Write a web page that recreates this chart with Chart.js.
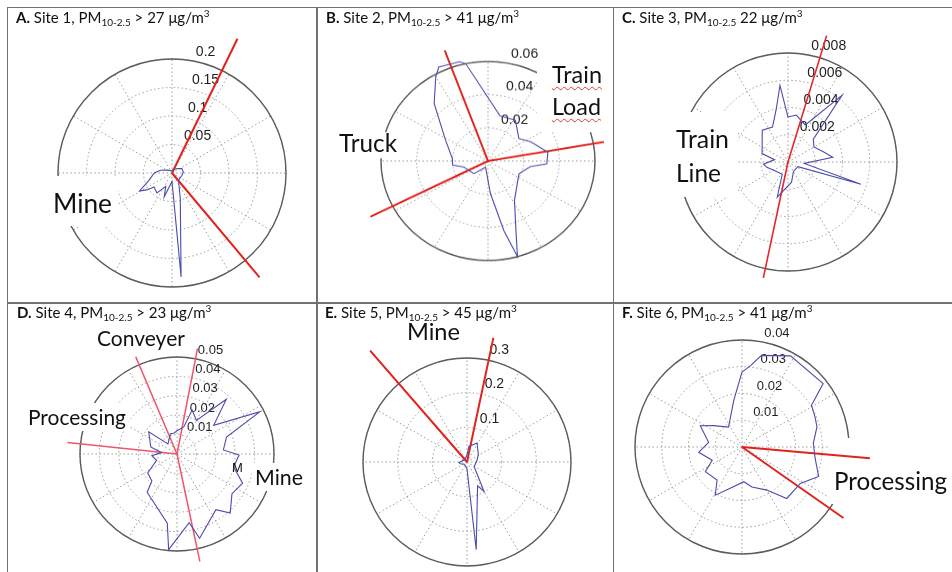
<!DOCTYPE html>
<html>
<head>
<meta charset="utf-8">
<script src="https://cdn.jsdelivr.net/npm/chart.js@4.4.0/dist/chart.umd.min.js"></script>
<style>
  body { margin: 0; background: #fff; }
  #page { position: relative; width: 952px; height: 572px; overflow: hidden; font-family: Lato, "Open Sans", sans-serif; }
  .rule { position: absolute; background: #727272; }
  .cell { position: absolute; }
  .cell canvas { position: absolute; left: 0; top: 0; }
  .title { position: absolute; font-size: 15px; color: #111; white-space: nowrap; line-height: 1; z-index: 3; }
  .title sub { font-size: 10px; vertical-align: -3px; line-height: 0; }
  .title sup { font-size: 10px; vertical-align: 6px; line-height: 0; }
  .lab { position: absolute; color: #111; white-space: nowrap; line-height: 1; z-index: 3; }
  .lab .bl { display: inline-block; width: 0; height: 0; vertical-align: baseline; }
  .wavy { text-decoration: underline wavy #e03a3a; text-decoration-thickness: 1px; text-underline-offset: 3px; }
</style>
</head>
<body>
<div id="page"></div>
<script>
// directions are degrees clockwise from north, values are the rose radius

// A. Site 1
const dirA = [0, 20, 49, 66, 85, 103, 138, 162, 175, 180, 198, 205, 217, 232, 236, 241, 252, 270, 283, 300, 330]
const valA = [0.004, 0.006, 0.012, 0.019, 0.020, 0.018, 0.017, 0.047, 0.183, 0.015, 0.044, 0.026, 0.044, 0.040, 0.053, 0.065, 0.043, 0.031, 0.021, 0.010, 0.005]
const redDirA = [26, 140]
const redLenA = [0.262, 0.239]
const ticksA = [0.05, 0.1, 0.15, 0.2]

// B. Site 2
const dirB = [14, 32, 52, 64, 81, 93, 98, 114, 148, 160, 164, 168, 176, 200, 226, 255, 263, 274, 298, 319, 330, 334, 345, 348]
const valB = [0.028, 0.029, 0.022, 0.0266, 0.034, 0.033, 0.024, 0.019, 0.028, 0.046, 0.060, 0.043, 0.0197, 0.004, 0.011, 0.014, 0.020, 0.020, 0.027, 0.046, 0.0586, 0.063, 0.062, 0.060]
const redDirB = [340, 80, 243]
const redLenB = [0.071, 0.066, 0.074]
const ticksB = [0.02, 0.04, 0.06]

// C. Site 3
const dirC = [0, 10, 25, 39, 48, 60, 75, 84, 95, 107, 115, 150, 170, 197, 205, 240, 256, 265, 280, 288, 321, 336, 347, 354]
const valC = [0.0033, 0.0035, 0.0030, 0.0063, 0.0025, 0.0022, 0.00275, 0.0033, 0.0012, 0.0056, 0.0008, 0.0008, 0.0015, 0.0027, 0.0010, 0.0012, 0.0016, 0.0018, 0.0010, 0.0020, 0.0030, 0.0028, 0.0039, 0.00565]
const redDirC = [17, 192]
const redLenC = [0.0097, 0.0087]
const ticksC = [0.002, 0.004, 0.006, 0.008]

// D. Site 4
const dirD = [0, 14, 19, 30, 42, 52, 63, 71, 85, 91, 103, 114, 126, 138, 145, 165, 170, 185, 188, 218, 223, 237, 253, 266, 275, 285, 308, 318, 342, 351]
const valD = [0.012, 0.0144, 0.024, 0.020, 0.038, 0.024, 0.048, 0.027, 0.024, 0.032, 0.030, 0.037, 0.035, 0.041, 0.035, 0.045, 0.036, 0.0495, 0.036, 0.025, 0.019, 0.018, 0.011, 0.013, 0.008, 0.014, 0.0185, 0.007, 0.011, 0.0108]
const redDirD = [11, 168, 276, 337]
const redLenD = [0.0553, 0.0566, 0.0568, 0.0544]
const ticksD = [0.01, 0.02, 0.03, 0.04, 0.05]

// E. Site 5
const dirE = [0, 7, 28, 57, 86, 122, 150, 156, 174, 180, 200, 230, 255, 265, 280, 310, 340]
const valE = [0.02, 0.045, 0.062, 0.039, 0.028, 0.024, 0.098, 0.075, 0.254, 0.02, 0.012, 0.01, 0.02, 0.023, 0.015, 0.01, 0.012]
const redDirE = [12, 319]
const redLenE = [0.366, 0.426]
const ticksE = [0.1, 0.2, 0.3]

// F. Site 6
const dirF = [0, 6, 12, 28, 52, 59, 68, 75, 87, 99, 111, 122, 139, 150, 166, 177, 196, 209, 217, 236, 246, 263, 278, 297, 307, 326, 350]
const valF = [0.028, 0.0306, 0.035, 0.0386, 0.0385, 0.0303, 0.0295, 0.029, 0.0267, 0.0277, 0.0307, 0.0257, 0.0255, 0.0186, 0.0154, 0.013, 0.016, 0.0206, 0.0155, 0.0165, 0.0122, 0.0163, 0.0126, 0.0175, 0.0133, 0.009, 0.0177]
const redDirF = [95, 125]
const redLenF = [0.048, 0.0463]
const ticksF = [0.01, 0.02, 0.03, 0.04]


let page = document.getElementById('page')

let panels = [
  {title: '<b>A.</b> Site 1, PM<sub>10-2.5</sub> &gt; 27 μg/m<sup>3</sup>', tx: 16, tb: 23,
   dirs: dirA, vals: valA, redDirs: redDirA, redLens: redLenA, ticks: ticksA,
   cell: [7, 7, 310, 295], cx: 172, cy: 173, R: 114, sy: 1, red: '#e2231c', redW: 2, tickFont: 14,
   boxes: [[48, 176, 70, 50]],
   labels: [{t: 'Mine', x: 53, base: 213, w: 59}]},
  {title: '<b>B.</b> Site 2, PM<sub>10-2.5</sub> &gt; 41 μg/m<sup>3</sup>', tx: 326, tb: 23,
   dirs: dirB, vals: valB, redDirs: redDirB, redLens: redLenB, ticks: ticksB,
   cell: [317, 7, 296, 295], cx: 488, cy: 161, R: 107, sy: 0.93, red: '#e2231c', redW: 2, tickFont: 14,
   boxes: [[336, 130, 64, 28], [537, 48, 75, 82]],
   labels: [{t: 'Truck', x: 339, base: 152, w: 58}, {t: 'Train', x: 552, base: 83, w: 50, wavy: true}, {t: 'Load', x: 552, base: 115, w: 49, wavy: true}]},
  {title: '<b>C.</b> Site 3, PM<sub>10-2.5</sub> 22 μg/m<sup>3</sup>', tx: 622, tb: 23,
   dirs: dirC, vals: valC, redDirs: redDirC, redLens: redLenC, ticks: ticksC,
   cell: [613, 7, 339, 295], cx: 788, cy: 162, R: 109, sy: 1, red: '#e8262a', redW: 1.6, tickFont: 14,
   boxes: [[672, 112, 66, 85]],
   labels: [{t: 'Train', x: 676, base: 148, w: 53}, {t: 'Line', x: 676, base: 182, w: 45}]},
  {title: '<b>D.</b> Site 4, PM<sub>10-2.5</sub> &gt; 23 μg/m<sup>3</sup>', tx: 17, tb: 318,
   dirs: dirD, vals: valD, redDirs: redDirD, redLens: redLenD, ticks: ticksD,
   cell: [7, 302, 310, 270], cx: 177, cy: 454, R: 97, sy: 1, red: '#f0566b', redW: 1.5, tickFont: 13,
   boxes: [[94, 328, 94, 24], [25, 403, 104, 28], [252, 463, 55, 28]],
   labels: [{t: 'Conveyer', x: 97, base: 346, w: 88}, {t: 'Processing', x: 28, base: 425, w: 98},
            {t: 'Mine', x: 255, base: 485, w: 48}, {t: 'M', x: 232, base: 472, size: 13, font: '"Liberation Sans", Arial, sans-serif'}]},
  {title: '<b>E.</b> Site 5, PM<sub>10-2.5</sub> &gt; 45 μg/m<sup>3</sup>', tx: 325, tb: 318,
   dirs: dirE, vals: valE, redDirs: redDirE, redLens: redLenE, ticks: ticksE,
   cell: [317, 302, 296, 270], cx: 467, cy: 462, R: 104, sy: 1, red: '#e2231c', redW: 2, tickFont: 14,
   boxes: [],
   labels: [{t: 'Mine', x: 407, base: 340, w: 53}]},
  {title: '<b>F.</b> Site 6, PM<sub>10-2.5</sub> &gt; 41 μg/m<sup>3</sup>', tx: 622, tb: 318,
   dirs: dirF, vals: valF, redDirs: redDirF, redLens: redLenF, ticks: ticksF,
   cell: [613, 302, 339, 270], cx: 742, cy: 447, R: 107, sy: 1, red: '#e2231c', redW: 2, tickFont: 13,
   boxes: [[828, 438, 124, 66]],
   labels: [{t: 'Processing', x: 834, base: 490, w: 113}]}
]

// table rules
function rule(x, y, w, h) {
  let d = document.createElement('div')
  d.className = 'rule'
  d.style.cssText = 'left:' + x + 'px;top:' + y + 'px;width:' + w + 'px;height:' + h + 'px'
  page.appendChild(d)
}
rule(7, 6.5, 945, 1.8)
rule(7, 302, 945, 1.6)
rule(6.5, 7, 1.6, 565)
rule(316.2, 7, 1.6, 565)
rule(612.5, 7, 1.6, 565)

// put a piece of html so that its text baseline sits on y
function baselineAt(el, x, base) {
  let bl = el.querySelector('.bl').offsetTop
  el.style.left = x + 'px'
  el.style.top = (base - bl) + 'px'
}

function addLabel(l) {
  let el = document.createElement('div')
  el.className = 'lab'
  let size = l.size || 26
  el.style.fontSize = size + 'px'
  if (l.font) el.style.fontFamily = l.font
  el.innerHTML = '<span' + (l.wavy ? ' class="wavy"' : '') + '>' + l.t + '</span><i class="bl"></i>'
  page.appendChild(el)
  if (l.w) {
    let w = el.firstChild.getBoundingClientRect().width
    el.style.fontSize = (size * l.w / w) + 'px'
  }
  baselineAt(el, l.x, l.base)
}

function addTitle(p) {
  let el = document.createElement('div')
  el.className = 'title'
  el.innerHTML = p.title + '<i class="bl" style="display:inline-block;width:0;height:0"></i>'
  page.appendChild(el)
  baselineAt(el, p.tx, p.tb)
}

const gridColor = '#9c9c9c'
const roseBlue = '#4c4cae'

function polarChart(p) {
  let [x0, y0, w, h] = p.cell
  let wrap = document.createElement('div')
  wrap.className = 'cell'
  wrap.style.cssText = 'left:' + x0 + 'px;top:' + y0 + 'px;width:' + w + 'px;height:' + h + 'px'
  if (p.sy !== 1) {
    wrap.style.transformOrigin = (p.cx - x0) + 'px ' + (p.cy - y0) + 'px'
    wrap.style.transform = 'scaleY(' + p.sy + ')'
  }
  let canvas = document.createElement('canvas')
  canvas.width = w
  canvas.height = h
  wrap.appendChild(canvas)
  page.appendChild(wrap)

  // one label per degree, so that every direction sits on its own spoke
  let labels = Array.from({length: 360}, (_, i) => i)
  let rose = new Array(360).fill(null)
  p.dirs.forEach((d, i) => { rose[d % 360] = p.vals[i] })

  let datasets = [{data: rose, borderColor: roseBlue, borderWidth: 1.1, pointRadius: 0, fill: false, spanGaps: true, clip: false}]
  p.redDirs.forEach((d, i) => {
    let ray = new Array(360).fill(null)
    ray[d] = p.redLens[i]
    ray[(d + 180) % 360] = 0
    datasets.push({data: ray, borderColor: p.red, borderWidth: p.redW, pointRadius: 0, fill: false, spanGaps: true, clip: false})
  })

  let step = p.ticks[0]
  let top = p.ticks[p.ticks.length - 1]

  let decor = {
    id: 'decor',
    beforeDatasetsDraw(chart) {
      let s = chart.scales.r
      let ctx = chart.ctx
      ctx.save()
      // solid outer ring
      ctx.strokeStyle = '#5c5c5c'
      ctx.lineWidth = 1.4
      ctx.beginPath()
      ctx.arc(s.xCenter, s.yCenter, s.drawingArea, 0, Math.PI * 2)
      ctx.stroke()
      // white boxes behind the pasted labels
      ctx.fillStyle = '#fff'
      p.boxes.forEach(b => ctx.fillRect(b[0] - x0, b[1] - y0, b[2], b[3]))
      // ring values, placed the matlab way at 82 deg
      ctx.fillStyle = '#1e1e1e'
      ctx.font = p.tickFont + 'px "Liberation Sans", Arial, sans-serif'
      ctx.textBaseline = 'bottom'
      p.ticks.forEach(v => {
        let pt = s.getPointPositionForValue(8, v + step / 20)
        ctx.fillText('  ' + v, pt.x, pt.y)
      })
      ctx.restore()
    }
  }

  new Chart(canvas, {
    type: 'radar',
    data: {labels: labels, datasets: datasets},
    options: {
      responsive: false,
      animation: false,
      devicePixelRatio: 1,
      events: [],
      layout: {padding: {
        left: p.cx - x0 - p.R, top: p.cy - y0 - p.R,
        right: x0 + w - p.cx - p.R, bottom: y0 + h - p.cy - p.R
      }},
      plugins: {legend: {display: false}, tooltip: {enabled: false}},
      elements: {line: {tension: 0, borderJoinStyle: 'miter'}},
      scales: {
        r: {
          min: 0,
          max: top,
          ticks: {display: false, stepSize: step},
          pointLabels: {display: false},
          grid: {circular: true, color: gridColor, lineWidth: 1},
          border: {dash: [1.5, 2.5]},
          angleLines: {
            color: gridColor,
            lineWidth: c => (c.index % 30 === 0 ? 1 : 0),
            borderDash: [1.5, 2.5]
          }
        }
      }
    },
    plugins: [decor]
  })
}

panels.forEach(p => {
  polarChart(p)
  addTitle(p)
  p.labels.forEach(addLabel)
})
</script>
</body>
</html>
